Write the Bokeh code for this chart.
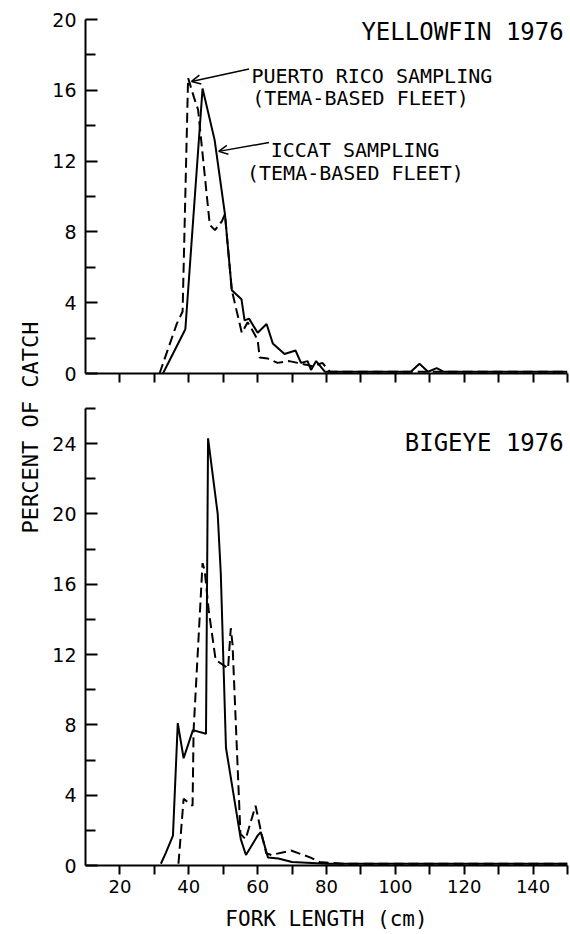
import math
from bokeh.plotting import figure
from bokeh.models import Range1d, FixedTicker, Label, Arrow, OpenHead
from bokeh.layouts import column, row
from bokeh.embed import file_html
from bokeh.resources import INLINE

# ---------------- data ----------------
# Yellowfin 1976
yf_iccat_len = [32.5, 39, 44, 47.5, 50.5, 52.5, 55.3, 56.2, 57.5, 60, 62.6, 64.4, 67.8,
                71, 72.6, 74.5, 75.5, 77, 79.5, 104.5, 107, 109.5, 112, 114, 150]
yf_iccat_pct = [0, 2.5, 16.1, 13.2, 9.0, 4.7, 4.2, 3.0, 3.1, 2.3, 2.8, 1.7, 1.1,
                1.3, 0.6, 0.7, 0.2, 0.7, 0.1, 0.1, 0.55, 0.1, 0.3, 0.1, 0.1]
yf_pr_len = [31.5, 36.5, 38.2, 39.8, 41.5, 42.7, 46.1, 47.6, 49.6, 50.5, 52.5, 55.4, 57.1,
             58.6, 60.0, 60.6, 62.9, 65.8, 69.2, 71.6, 74, 76, 78.8, 81, 150]
yf_pr_pct = [0, 2.8, 3.5, 16.7, 15.6, 14.9, 8.4, 8.1, 8.6, 9.0, 4.7, 2.3, 2.9,
             2.4, 1.9, 0.9, 0.85, 0.6, 0.7, 0.6, 0.5, 0.4, 0.6, 0.1, 0.1]

# Bigeye 1976
be_iccat_len = [31.9, 33.3, 35.4, 36.8, 38.5, 41.2, 45.0, 45.6, 48.4, 49.3, 50.8, 55.1,
                56.6, 60.0, 60.9, 63.0, 66.0, 70, 80, 150]
be_iccat_pct = [0.1, 0.7, 1.7, 8.1, 6.1, 7.7, 7.5, 24.3, 20.0, 16.6, 6.7, 1.5,
                0.6, 1.7, 1.9, 0.45, 0.4, 0.2, 0.1, 0.1]
be_pr_len = [37.0, 38.5, 39.7, 41.1, 41.4, 44.0, 44.6, 45.8, 47.8, 50.8, 51.4, 52.2,
             52.7, 55.0, 56.5, 59.4, 60.9, 62.5, 64, 69.7, 75.4, 78, 85, 150]
be_pr_pct = [0.1, 3.8, 3.6, 3.4, 7.7, 17.2, 16.8, 14.5, 11.7, 11.3, 11.2, 13.5,
             12.6, 1.8, 1.5, 3.4, 2.0, 0.7, 0.6, 0.85, 0.45, 0.2, 0.1, 0.1]

# ticks
x_ticks_all = [20, 30, 40, 50, 60, 70, 80, 90, 100, 110, 120, 130, 140, 150]
x_ticks_labeled = [20, 40, 60, 80, 100, 120, 140]
x_ticks_minor = [30, 50, 70, 90, 110, 130, 150]
yf_y_major = [0, 4, 8, 12, 16, 20]
yf_y_minor = [2, 6, 10, 14, 18]
be_y_major = [0, 4, 8, 12, 16, 20, 24]
be_y_minor = [2, 6, 10, 14, 18, 22, 26]

NUM_FONT = "DejaVu Sans"
LET_FONT = "DejaVu Sans Mono"


def style_axes(p):
    for ax in (p.xaxis + p.yaxis):
        ax.axis_line_width = 2
        ax.axis_line_color = "black"
        ax.major_tick_line_width = 2
        ax.minor_tick_line_width = 2
        ax.major_tick_line_color = "black"
        ax.minor_tick_line_color = "black"
        ax.major_label_text_font = NUM_FONT
        ax.major_label_text_color = "black"
        ax.axis_label_text_font = LET_FONT
        ax.axis_label_text_font_style = "normal"
        ax.axis_label_text_color = "black"
    p.xgrid.visible = False
    p.ygrid.visible = False
    p.outline_line_color = None
    p.yaxis.major_tick_in = 12
    p.yaxis.major_tick_out = 0
    p.yaxis.minor_tick_in = 10
    p.yaxis.minor_tick_out = 0
    p.yaxis.major_label_standoff = 9
    p.yaxis.major_label_text_font_size = "19px"
    p.xaxis.major_tick_in = 0
    p.xaxis.major_tick_out = 9
    p.xaxis.minor_tick_in = 0
    p.xaxis.minor_tick_out = 9


def note(p, x, y, text, size="20px", align="left"):
    p.add_layout(Label(x=x, y=y, text=text, text_align=align, text_baseline="alphabetic",
                       text_font=LET_FONT, text_font_size=size, text_color="black"))


# ---------------- top panel ----------------
p1 = figure(width=527, height=390, x_range=Range1d(10, 150), y_range=Range1d(0, 20),
            output_backend="svg", toolbar_location=None,
            min_border_left=37, min_border_right=2, min_border_top=19, min_border_bottom=17)
p1.xaxis.ticker = FixedTicker(ticks=x_ticks_all)
style_axes(p1)
p1.yaxis.ticker = FixedTicker(ticks=yf_y_major, minor_ticks=yf_y_minor)
p1.xaxis.major_label_text_font_size = "1px"
p1.xaxis.major_label_text_color = None
p1.xaxis.major_label_standoff = 0

p1.line(yf_iccat_len, yf_iccat_pct, line_color="black", line_width=2)
p1.line(yf_pr_len, yf_pr_pct, line_color="black", line_width=2, line_dash="10 5")

note(p1, 148.9, 19.3, "YELLOWFIN 1976", size="24px", align="right")
note(p1, 58.2, 16.8, "PUERTO RICO SAMPLING")
note(p1, 58.4, 15.55, "(TEMA-BASED FLEET)")
note(p1, 63.8, 12.6, "ICCAT SAMPLING")
note(p1, 56.9, 11.35, "(TEMA-BASED FLEET)")
p1.add_layout(Arrow(end=OpenHead(size=9, line_width=1.5, line_color="black"),
                    x_start=57.5, y_start=17.2, x_end=40.8, y_end=16.5,
                    line_width=1.5, line_color="black"))
p1.add_layout(Arrow(end=OpenHead(size=9, line_width=1.5, line_color="black"),
                    x_start=63.3, y_start=13.05, x_end=48.7, y_end=12.55,
                    line_width=1.5, line_color="black"))

# ---------------- bottom panel ----------------
p2 = figure(width=527, height=544, x_range=Range1d(10, 150), y_range=Range1d(0, 26),
            output_backend="svg", toolbar_location=None,
            min_border_left=43, min_border_right=1, min_border_top=18, min_border_bottom=69)
p2.xaxis.ticker = FixedTicker(ticks=x_ticks_labeled, minor_ticks=x_ticks_minor)
style_axes(p2)
p2.yaxis.ticker = FixedTicker(ticks=be_y_major, minor_ticks=be_y_minor)
p2.xaxis.major_label_text_font_size = "18px"
p2.xaxis.major_label_standoff = 5
p2.xaxis.axis_label = "FORK LENGTH (cm)"
p2.xaxis.axis_label_text_font_size = "21px"
p2.xaxis.axis_label_standoff = 11

p2.line(be_iccat_len, be_iccat_pct, line_color="black", line_width=2)
p2.line(be_pr_len, be_pr_pct, line_color="black", line_width=2, line_dash="10 5")

note(p2, 148.9, 24.05, "BIGEYE 1976", size="24px", align="right")

# ---------------- shared y label ----------------
pl = figure(width=42, height=934, x_range=Range1d(0, 42), y_range=Range1d(0, 934),
            output_backend="svg", toolbar_location=None, x_axis_type=None, y_axis_type=None,
            min_border=0)
pl.outline_line_color = None
pl.xgrid.visible = False
pl.ygrid.visible = False
pl.add_layout(Label(x=30, y=507, text="PERCENT OF CATCH", angle=math.pi / 2,
                    text_align="center", text_baseline="middle", text_font=LET_FONT,
                    text_font_size="22px", text_color="black"))

layout = row(pl, column(p1, p2))
open("out.html", "w").write(file_html(layout, INLINE))
